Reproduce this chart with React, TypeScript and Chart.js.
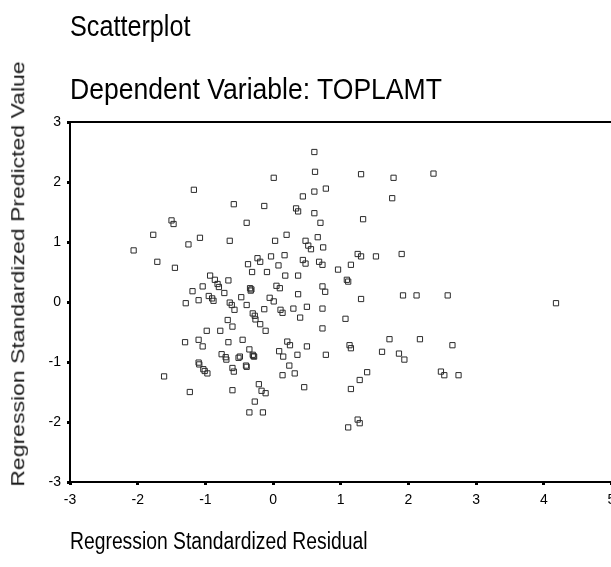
import React, { useEffect, useRef } from "react";
import { Chart, registerables } from "chart.js";

Chart.register(...registerables);

// Regression Standardized Residual (x) and Regression Standardized Predicted Value (y)
const residuals = [
  -1.17, -0.58, -1.50, -1.47, -1.77, -1.08, -0.64, 0.61, 0.62, 0.01,
  1.30, 1.78, 0.78, 0.61, 0.44, 1.76, -0.13, 0.34, 0.37, 0.61,
  0.70, -0.39, 1.33, 0.20, 0.66, 0.03, 0.48, 2.37, -1.25, -2.06,
  -1.71, -1.45, -0.93, -0.86, -0.66, -0.82, -0.80, -1.04, -1.19, -0.72,
  -0.95, -0.90, -0.88, -1.10, -1.29, -0.64, -0.61, -0.57, -0.47, -0.67,
  -0.60, -0.98, -0.78, -1.30, -1.10, -1.04, -0.66, -0.76, -0.70, -0.69,
  -0.51, -1.10, -1.09, -1.03, -1.01, -0.97, -0.60, -0.58, -1.61, -1.23,
  -0.60, 0.52, 0.56, 0.74, -0.03, 0.17, -0.23, -0.19, -0.37, -0.31,
  -0.09, 0.08, 0.18, 0.37, 0.44, 0.48, 0.68, 0.73, 0.96, 1.15,
  1.25, 1.30, 1.52, 1.90, 1.09, 1.11, -0.34, -0.33, -0.32, 0.05,
  0.10, 0.73, 0.77, 0.37, -0.05, 0.01, 1.30, 1.92, 2.12, -0.39,
  -0.13, 0.11, 0.14, 0.30, 0.50, 0.73, -0.30, -0.27, -0.26, 0.40,
  1.07, -0.19, -0.11, 0.73, -0.45, 0.21, 0.25, 0.50, 1.13, 1.15,
  1.72, 2.17, 1.61, 1.86, 1.94, -0.35, -0.49, -0.30, -0.28, -0.29,
  0.09, 0.15, 0.36, 0.78, 2.58, 4.18, 2.65, -0.40, -0.39, 0.24,
  0.14, 0.32, 1.39, 1.28, 1.15, -0.21, -0.17, -0.11, 0.46, -0.27,
  -0.35, -0.15, 1.25, 1.28, 1.11, 2.48, 2.53, 2.74,
];

const predicted = [
  1.87, 1.63, 1.36, 1.30, 1.12, 1.07, 1.02, 2.50, 2.17, 2.07,
  2.13, 2.07, 1.89, 1.84, 1.76, 1.73, 1.60, 1.56, 1.51, 1.48,
  1.32, 1.32, 1.38, 1.12, 1.08, 1.02, 1.02, 2.14, 0.96, 0.86,
  0.67, 0.57, 0.44, 0.37, 0.36, 0.30, 0.25, 0.26, 0.18, 0.15,
  0.10, 0.06, 0.02, 0.03, -0.02, -0.01, -0.05, -0.13, 0.08, -0.30,
  -0.41, -0.48, -0.48, -0.67, -0.63, -0.74, -0.67, -0.87, -0.92, -0.96,
  -0.93, -1.01, -1.04, -1.12, -1.15, -1.19, -1.10, -1.16, -1.24, -1.50,
  -1.47, 0.94, 0.88, 0.91, 0.76, 0.78, 0.73, 0.67, 0.63, 0.50,
  0.50, 0.61, 0.44, 0.44, 0.70, 0.64, 0.67, 0.62, 0.54, 0.62,
  0.80, 0.76, 0.76, 0.80, 0.37, 0.34, 0.23, 0.19, 0.21, 0.27,
  0.23, 0.26, 0.17, 0.13, 0.07, 0.01, 0.05, 0.11, 0.11, -0.05,
  -0.12, -0.13, -0.18, -0.11, -0.08, -0.11, -0.19, -0.23, -0.29, -0.26,
  -0.28, -0.37, -0.48, -0.44, -0.63, -0.66, -0.72, -0.74, -0.72, -0.77,
  -0.62, -0.62, -0.83, -0.86, -0.96, -0.79, -0.91, -0.88, -0.91, -0.90,
  -0.82, -0.91, -0.88, -0.88, 0.11, -0.02, -0.72, -1.06, -1.08, -1.06,
  -1.22, -1.19, -1.17, -1.30, -1.45, -1.37, -1.48, -1.52, -1.42, -1.66,
  -1.84, -1.84, -1.96, -2.02, -2.09, -1.16, -1.22, -1.22,
];

const xTickValues = [-3, -2, -1, 0, 1, 2, 3, 4, 5];
const yTickValues = [-3, -2, -1, 0, 1, 2, 3];

const chartTitle = "Scatterplot";
const chartSubtitle = "Dependent Variable: TOPLAMT";
const xAxisTitle = "Regression Standardized Residual";
const yAxisTitle = "Regression Standardized Predicted Value";

const CANVAS_W = 680;
const CANVAS_H = 567;
const tickFont = "'Liberation Sans Narrow', 'Arial Narrow', 'Liberation Sans', Arial, sans-serif";
const textFont = "'Liberation Sans', Arial, sans-serif";

const frameTop = {
  id: "frameTop",
  afterDraw(chart: any) {
    const { ctx, chartArea } = chart;
    ctx.save();
    ctx.strokeStyle = "#000";
    ctx.lineWidth = 2;
    ctx.beginPath();
    ctx.moveTo(chartArea.left, chartArea.top);
    ctx.lineTo(chartArea.right + 10, chartArea.top);
    ctx.stroke();
    ctx.restore();
  },
};

export default function App() {
  const canvasRef = useRef<HTMLCanvasElement | null>(null);

  useEffect(() => {
    const canvas = canvasRef.current;
    if (!canvas) return;
    const points = residuals.map((x, i) => ({ x, y: predicted[i] }));
    const chart = new Chart(canvas, {
      type: "scatter",
      data: {
        datasets: [
          {
            data: points,
            pointStyle: "rect",
            pointRadius: 3.7,
            pointHoverRadius: 3.7,
            borderWidth: 1,
            borderColor: "#2b2b2b",
            backgroundColor: "rgba(0,0,0,0)",
          },
        ],
      },
      options: {
        responsive: false,
        animation: false,
        events: [],
        layout: {
          padding: { left: 0, top: 122, right: CANVAS_W - 611.5, bottom: 0 },
        },
        plugins: {
          legend: { display: false },
          tooltip: { enabled: false },
          title: { display: false },
        },
        scales: {
          x: {
            type: "linear",
            min: -3,
            max: 5,
            afterFit(scale: any) {
              scale.height = CANVAS_H - 482;
            },
            afterBuildTicks(scale: any) {
              scale.ticks = xTickValues.map((v) => ({ value: v }));
            },
            ticks: {
              color: "#000",
              padding: 7,
              maxRotation: 0,
              autoSkip: false,
              font: { family: tickFont, size: 14 },
            },
            grid: {
              display: true,
              drawOnChartArea: false,
              drawTicks: true,
              tickLength: 3,
              tickWidth: 3,
              tickColor: "#000",
            },
            border: { display: true, color: "#000", width: 2 },
          },
          y: {
            type: "linear",
            min: -3,
            max: 3,
            afterFit(scale: any) {
              scale.width = 70;
            },
            afterBuildTicks(scale: any) {
              scale.ticks = yTickValues.map((v) => ({ value: v }));
            },
            ticks: {
              color: "#000",
              padding: 6,
              autoSkip: false,
              font: { family: tickFont, size: 14 },
            },
            grid: {
              display: true,
              drawOnChartArea: false,
              drawTicks: true,
              tickLength: 3,
              tickWidth: 3,
              tickColor: "#000",
            },
            border: { display: true, color: "#000", width: 2 },
          },
        },
      },
      plugins: [frameTop],
    });
    return () => chart.destroy();
  }, []);

  const hText = (size: number, top: number, left: number, sx: number): React.CSSProperties => ({
    position: "absolute",
    left,
    top,
    fontFamily: textFont,
    fontSize: size,
    lineHeight: `${size}px`,
    whiteSpace: "nowrap",
    color: "#000",
    transform: `scaleX(${sx})`,
    transformOrigin: "left top",
  });

  return (
    <div
      style={{
        position: "absolute",
        left: 0,
        top: 0,
        width: 611,
        height: 567,
        overflow: "hidden",
        background: "#fff",
      }}
    >
      <canvas
        ref={canvasRef}
        width={CANVAS_W}
        height={CANVAS_H}
        style={{ position: "absolute", left: 0, top: 0, width: CANVAS_W, height: CANVAS_H }}
      />
      <div style={hText(30, 11, 70, 0.84)}>{chartTitle}</div>
      <div style={hText(30, 74, 70, 0.885)}>{chartSubtitle}</div>
      <div style={hText(23, 530, 70, 0.84)}>{xAxisTitle}</div>
      <div
        style={{
          position: "absolute",
          left: 18,
          top: 274,
          fontFamily: textFont,
          fontSize: 23,
          lineHeight: "23px",
          whiteSpace: "nowrap",
          color: "#1a1a1a",
          transform: "translate(-50%, -50%) rotate(-90deg) scaleY(0.8)",
        }}
      >
        {yAxisTitle}
      </div>
    </div>
  );
}
